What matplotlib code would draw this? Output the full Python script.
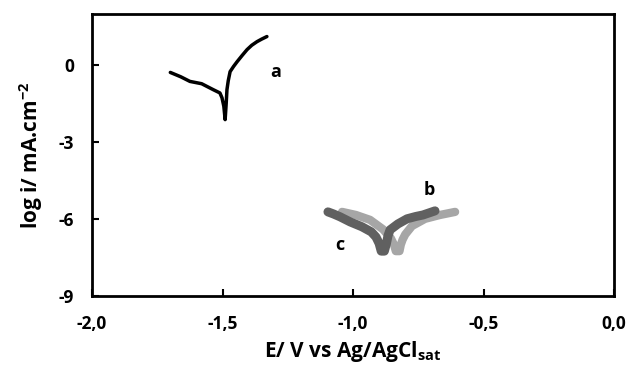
import matplotlib
matplotlib.use("Agg")
import matplotlib.pyplot as plt

plt.rcParams["font.family"] = ["Open Sans", "DejaVu Sans"]
plt.rcParams["font.weight"] = "bold"
plt.rcParams["mathtext.fontset"] = "custom"
plt.rcParams["mathtext.rm"] = "Open Sans:bold"
plt.rcParams["mathtext.default"] = "rm"
plt.rcParams["axes.unicode_minus"] = False

# curve a
a_E = [-1.70, -1.66, -1.625, -1.58, -1.536, -1.51, -1.502, -1.495, -1.49,
       -1.486, -1.483, -1.478, -1.471, -1.458, -1.444, -1.425, -1.406, -1.388,
       -1.368, -1.35, -1.33]
a_logi = [-0.28, -0.45, -0.63, -0.72, -0.95, -1.08, -1.27, -1.6, -2.12,
          -1.5, -0.95, -0.6, -0.25, -0.05, 0.14, 0.38, 0.61, 0.78,
          0.92, 1.02, 1.12]

# curve b (dark grey)
b_E = [-1.096, -1.075, -1.050, -1.011, -0.966, -0.930, -0.912, -0.900, -0.892,
       -0.880, -0.872, -0.866, -0.858, -0.828, -0.793, -0.76, -0.732, -0.686]
b_logi = [-5.72, -5.80, -5.91, -6.11, -6.30, -6.50, -6.70, -6.95, -7.25,
          -7.25, -6.95, -6.65, -6.42, -6.19, -5.99, -5.9, -5.84, -5.68]

# curve c (light grey)
c_E = [-1.042, -0.989, -0.935, -0.885, -0.855, -0.843, -0.836, -0.822, -0.817,
       -0.810, -0.800, -0.774, -0.724, -0.667, -0.609]
c_logi = [-5.72, -5.84, -6.03, -6.40, -6.75, -7.0, -7.25, -7.25, -7.0,
          -6.8, -6.6, -6.27, -5.99, -5.84, -5.72]

xticks = [-2.0, -1.5, -1.0, -0.5, 0.0]
xtick_labels = ["-2,0", "-1,5", "-1,0", "-0,5", "0,0"]
yticks = [-9, -6, -3, 0]
ytick_labels = ["-9", "-6", "-3", "0"]

fig = plt.figure(figsize=(6.29, 3.67), dpi=100)
ax = fig.add_axes([0.1463, 0.1935, 0.8299, 0.7684])

ax.plot(c_E, c_logi, color="#a6a6a6", lw=6, solid_capstyle="round", solid_joinstyle="round")
ax.plot(b_E, b_logi, color="#606060", lw=6.5, solid_capstyle="round", solid_joinstyle="round")
ax.plot(a_E, a_logi, color="black", lw=2.5, solid_capstyle="round")

ax.text(-1.318, -0.25, "a", fontsize=13, fontweight="bold", ha="left", va="center")
ax.text(-0.728, -4.86, "b", fontsize=13, fontweight="bold", ha="left", va="center")
ax.text(-1.05, -7.0, "c", fontsize=13, fontweight="bold", ha="center", va="center")

ax.set_xlim(-2.0, 0.0)
ax.set_ylim(-9, 2)
ax.set_xticks(xticks)
ax.set_xticklabels(xtick_labels)
ax.set_yticks(yticks)
ax.set_yticklabels(ytick_labels)
ax.tick_params(direction="in", length=5, width=1.5, labelsize=12.5)
ax.tick_params(axis="x", pad=14)
ax.tick_params(axis="y", pad=13)
for s in ax.spines.values():
    s.set_linewidth(2)

ax.set_xlabel("E/ V vs Ag/AgCl$_{sat}$", fontsize=15, fontweight="bold", labelpad=4)
ax.set_ylabel("log i/ mA.cm$^{-2}$", fontsize=15, fontweight="bold", labelpad=10)

plt.savefig("out.png", dpi=100)
